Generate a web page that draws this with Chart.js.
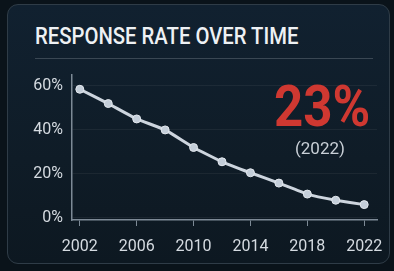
<!DOCTYPE html>
<html>
<head>
<meta charset="utf-8">
<script src="https://cdn.jsdelivr.net/npm/chart.js@4.4.0/dist/chart.umd.min.js"></script>
<style>
  html, body { margin: 0; padding: 0; }
  body {
    width: 394px; height: 271px; overflow: hidden;
    background: #0a131a;
    font-family: Roboto, sans-serif;
    position: relative;
  }
  .panel {
    position: absolute; left: 7px; top: 4px; width: 383px; height: 260px;
    border: 1.5px solid #2f3c47; border-radius: 11px;
    background: linear-gradient(180deg, #112130 0%, #0f1c27 60%, #0d1821 100%);
    box-sizing: border-box;
  }
  .title {
    position: absolute; left: 35px; top: 22px;
    color: #eef1f4; font-size: 24px; font-weight: 500;
    transform: scaleX(0.845); transform-origin: left top;
    white-space: nowrap;
  }
  .rule {
    position: absolute; left: 35px; top: 58px; width: 338px; height: 1px;
    background: #3a4753;
  }
  .big {
    position: absolute; left: 274px; top: 72px;
    color: #cf3831; font-size: 58px; font-weight: 700;
    transform: scaleX(0.88); transform-origin: left top; white-space: nowrap;
  }
  .sub {
    position: absolute; left: 295px; top: 138px;
    color: #c9d0d7; font-size: 17px; white-space: nowrap;
  }
  #wrap { position: absolute; left: 0; top: 0; width: 394px; height: 271px; }
</style>
</head>
<body>
<div class="panel"></div>
<div class="title">RESPONSE RATE OVER TIME</div>
<div class="rule"></div>
<div id="wrap"><canvas id="lineChart"></canvas></div>
<div class="big">23%</div>
<div class="sub">(2022)</div>
<script>
const years = [2002, 2004, 2006, 2008, 2010, 2012, 2014, 2016, 2018, 2020, 2022];
const rates = [58.5, 52, 45, 40, 32, 25.5, 20.5, 15.8, 10.8, 8, 6];
const yTicks = [0, 20, 40, 60];
const xTicks = [2002, 2006, 2010, 2014, 2018, 2022];

const lineColor = '#cdd5de';
const axisColor = '#7d8a96';

const ctx = document.getElementById('lineChart').getContext('2d');

new Chart(ctx, {
  type: 'line',
  data: {
    datasets: [
      {
        label: 'Response rate',
        data: years.map((y, i) => ({ x: y, y: rates[i] })),
        borderColor: lineColor,
        borderWidth: 3,
        tension: 0.1,
        pointRadius: 4,
        pointBackgroundColor: '#c4ced9',
        pointBorderColor: '#e3e8ee',
        pointBorderWidth: 1,
        fill: false
      }
    ]
  },
  options: {
    responsive: true,
    maintainAspectRatio: false,
    animation: false,
    layout: {
      padding: { left: 0, top: 75, right: 17, bottom: 0 }
    },
    scales: {
      x: {
        type: 'linear',
        min: 2001.45,
        max: 2022.9,
        afterBuildTicks: (scale) => {
          scale.ticks = xTicks.map(v => ({ value: v }));
        },
        afterFit: (scale) => { scale.height = 51; },
        grid: {
          color: 'transparent',
          tickColor: axisColor,
          tickLength: 6,
          drawOnChartArea: false
        },
        border: { color: axisColor, width: 1.5 },
        ticks: {
          color: '#d5dbe1',
          font: { family: 'Roboto', size: 16 },
          padding: 11,
          maxRotation: 0,
          callback: (v) => String(v)
        }
      },
      y: {
        min: -1,
        max: 65,
        afterBuildTicks: (scale) => {
          scale.ticks = yTicks.map(v => ({ value: v }));
        },
        afterFit: (scale) => { scale.width = 72; },
        grid: {
          color: 'rgba(255,255,255,0.055)',
          drawTicks: false
        },
        border: { color: axisColor, width: 1.5 },
        ticks: {
          color: '#d5dbe1',
          font: { family: 'Roboto', size: 16 },
          padding: 9,
          callback: (v) => v + '%'
        }
      }
    },
    plugins: {
      legend: { display: false },
      tooltip: { enabled: false }
    }
  }
});
</script>
</body>
</html>
